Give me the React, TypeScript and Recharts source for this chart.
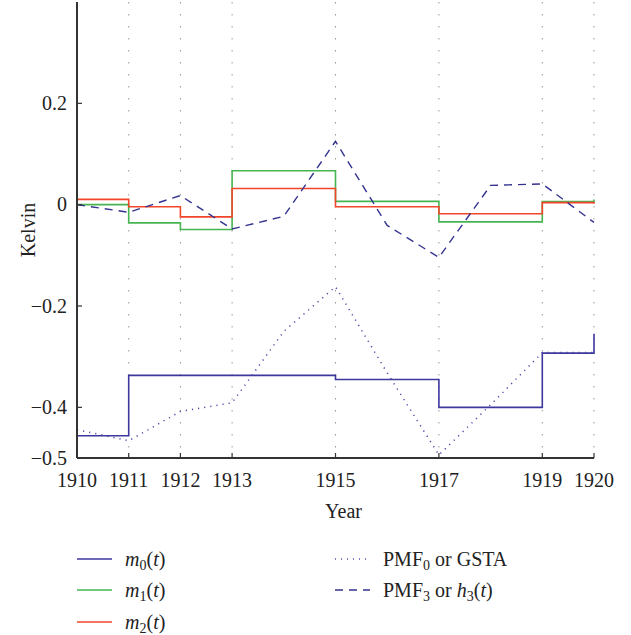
import React from "react";
import { CartesianGrid, Line, LineChart, XAxis, YAxis } from "recharts";

// yearly values (step series hold the value from that year onwards)
const years = [1910, 1911, 1912, 1913, 1914, 1915, 1916, 1917, 1918, 1919, 1920];
const m0 = [-0.456, -0.337, -0.337, -0.337, -0.337, -0.345, -0.345, -0.4, -0.4, -0.293, -0.255];
const m1 = [0.0, -0.036, -0.049, 0.067, 0.067, 0.0065, 0.0065, -0.034, -0.034, 0.006, 0.01];
const m2 = [0.0105, -0.004, -0.024, 0.032, 0.032, -0.004, -0.004, -0.018, -0.018, 0.004, 0.002];
const pmf0 = [-0.444, -0.466, -0.408, -0.391, -0.25, -0.162, -0.332, -0.494, -0.395, -0.292, -0.292];
const pmf3 = [0.0, -0.015, 0.018, -0.048, -0.023, 0.125, -0.041, -0.104, 0.038, 0.041, -0.035];

const xTicks = [1910, 1911, 1912, 1913, 1915, 1917, 1919, 1920];
const yTicks = [-0.5, -0.4, -0.2, 0, 0.2];

const data = years.map((year, i) => ({
  year,
  m0: m0[i],
  m1: m1[i],
  m2: m2[i],
  pmf0: pmf0[i],
  pmf3: pmf3[i],
}));

const FONT = "'Liberation Serif', 'DejaVu Serif', serif";
const AXIS = "#333";

const fmtY = (v: number) => (v === 0 ? "0" : v < 0 ? "\u2212" + Math.abs(v).toFixed(1) : v.toFixed(1));

const BottomTick = ({ x, y, payload }: any) => (
  <g>
    <line x1={x} x2={x} y1={y} y2={y - 5} stroke={AXIS} strokeWidth={1.2} />
    <text x={x} y={y + 29} textAnchor="middle" fontSize={20} fontFamily={FONT} fill="#222">
      {payload.value}
    </text>
  </g>
);

const TopTick = ({ x, y }: any) => <line x1={x} x2={x} y1={y} y2={y + 5} stroke={AXIS} strokeWidth={1.2} />;

const LeftTick = ({ x, y, payload }: any) => (
  <g>
    <line x1={x} x2={x + 5} y1={y} y2={y} stroke={AXIS} strokeWidth={1.2} />
    <text x={x - 10} y={y} dy="0.33em" textAnchor="end" fontSize={20} fontFamily={FONT} fill="#222">
      {fmtY(payload.value)}
    </text>
  </g>
);

const RightTick = ({ x, y }: any) => <line x1={x} x2={x - 6} y1={y} y2={y} stroke={AXIS} strokeWidth={1.2} />;

const Sub = ({ children }: { children: React.ReactNode }) => (
  <span style={{ fontSize: "0.7em", position: "relative", top: "0.35em" }}>{children}</span>
);

const legendItems = [
  { left: 77, top: 548, color: "#3d379e", dash: "", label: <><i>m</i><Sub>0</Sub>(<i>t</i>)</> },
  { left: 77, top: 579, color: "#46b450", dash: "", label: <><i>m</i><Sub>1</Sub>(<i>t</i>)</> },
  { left: 77, top: 611, color: "#f2462a", dash: "", label: <><i>m</i><Sub>2</Sub>(<i>t</i>)</> },
  { left: 335, top: 548, color: "#5550aa", dash: "1 5", label: <>PMF<Sub>0</Sub> or GSTA</> },
  { left: 335, top: 579, color: "#34338f", dash: "8 6", label: <>PMF<Sub>3</Sub> or <i>h</i><Sub>3</Sub>(<i>t</i>)</> },
];

export default function App() {
  return (
    <div style={{ position: "absolute", left: 0, top: 0, width: 631, height: 635, background: "#fff", fontFamily: FONT }}>
      <LineChart width={631} height={635} data={data} margin={{ top: 2, right: 37, bottom: 105, left: 0 }}>
        <CartesianGrid horizontal={false} stroke="#999" strokeDasharray="1.5 10.5" />
        <XAxis
          dataKey="year"
          type="number"
          domain={[1910, 1920]}
          ticks={xTicks}
          height={72}
          tickSize={0}
          tickMargin={0}
          tick={<BottomTick />}
          axisLine={{ stroke: AXIS, strokeWidth: 2 }}
          tickLine={false}
          label={{ value: "Year", position: "insideBottom", offset: 12, dx: 8, fontSize: 20, fill: "#222", fontFamily: FONT }}
        />
        <XAxis
          xAxisId="top"
          orientation="top"
          dataKey="year"
          type="number"
          domain={[1910, 1920]}
          ticks={xTicks}
          height={0}
          tickSize={0}
          tickMargin={0}
          tick={<TopTick />}
          axisLine={{ stroke: AXIS, strokeWidth: 1.5 }}
          tickLine={false}
        />
        <YAxis
          type="number"
          domain={[-0.5, 0.4]}
          ticks={yTicks}
          width={77}
          tickSize={0}
          tickMargin={0}
          tick={<LeftTick />}
          axisLine={{ stroke: AXIS, strokeWidth: 2 }}
          tickLine={false}
          label={{
            value: "Kelvin",
            angle: -90,
            position: "insideLeft",
            offset: 28,
            fontSize: 20,
            fill: "#222",
            fontFamily: FONT,
            style: { textAnchor: "middle" },
          }}
        />
        <YAxis
          yAxisId="right"
          orientation="right"
          type="number"
          domain={[-0.5, 0.4]}
          ticks={yTicks}
          width={0}
          tickSize={0}
          tickMargin={0}
          tick={<RightTick />}
          axisLine={{ stroke: AXIS, strokeWidth: 1.5 }}
          tickLine={false}
        />
        <Line type="stepAfter" dataKey="m0" stroke="#3d379e" strokeWidth={1.6} dot={false} isAnimationActive={false} />
        <Line type="stepAfter" dataKey="m1" stroke="#46b450" strokeWidth={1.6} dot={false} isAnimationActive={false} />
        <Line type="stepAfter" dataKey="m2" stroke="#f2462a" strokeWidth={1.6} dot={false} isAnimationActive={false} />
        <Line type="linear" dataKey="pmf3" stroke="#34338f" strokeWidth={1.4} strokeDasharray="8 6" dot={false} isAnimationActive={false} />
        <Line type="linear" dataKey="pmf0" stroke="#4f4aa8" strokeWidth={1.5} strokeDasharray="1.2 5" dot={false} isAnimationActive={false} />
      </LineChart>
      {legendItems.map((item, i) => (
        <div
          key={i}
          style={{ position: "absolute", left: item.left, top: item.top, height: 22, display: "flex", alignItems: "center", fontSize: 20, color: "#222", whiteSpace: "nowrap" }}
        >
          <svg width={35} height={4} style={{ marginRight: 13 }}>
            <line x1={0} x2={35} y1={2} y2={2} stroke={item.color} strokeWidth={1.6} strokeDasharray={item.dash || undefined} />
          </svg>
          <span>{item.label}</span>
        </div>
      ))}
    </div>
  );
}
